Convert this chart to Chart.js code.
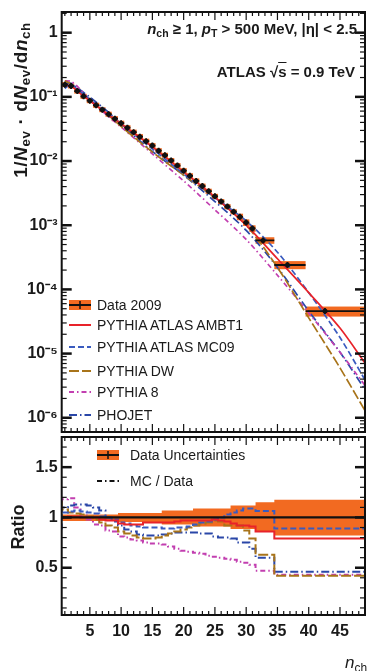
<!DOCTYPE html>
<html>
<head>
<meta charset="utf-8">
<script src="https://cdn.jsdelivr.net/npm/chart.js@4.4.1/dist/chart.umd.min.js"></script>
<style>
  html, body { margin: 0; padding: 0; background: #fff; }
  #wrap { position: relative; width: 369px; height: 671px; overflow: hidden;
          font-family: 'Liberation Sans', Arial, sans-serif; color: #1a1a1a; }
  canvas { position: absolute; left: 0; }
  #top { top: 0; }
  #ratio { top: 436px; }
  .txt { position: absolute; white-space: nowrap; line-height: 1; }
  .txt sub { font-size: 70%; vertical-align: -0.3em; line-height: 0; }
  .row { position: absolute; display: flex; align-items: center; height: 16px; white-space: nowrap; font-size: 14px; }
  .row svg { margin-right: 6px; }
</style>
</head>
<body>
<div id="wrap">
  <canvas id="top" width="369" height="436"></canvas>
  <canvas id="ratio" width="369" height="235"></canvas>

  <!-- axis titles -->
  <div class="txt" style="left:20px; top:100px; font-size:19px; font-weight:bold; letter-spacing:0.6px; transform:translate(-50%,-50%) rotate(-90deg);">
    1/<i>N</i><sub>ev</sub> · d<i>N</i><sub>ev</sub>/d<i>n</i><sub>ch</sub>
  </div>
  <div class="txt" style="left:18px; top:527px; font-size:18px; font-weight:bold; transform:translate(-50%,-50%) rotate(-90deg);">Ratio</div>
  <div class="txt" style="right:2px; top:654px; font-size:17px;"><i>n</i><sub>ch</sub></div>

  <!-- annotations -->
  <div class="txt" style="right:12px; top:21px; font-size:15px; font-weight:bold;">
    <i>n</i><sub>ch</sub> ≥ 1, <i>p</i><sub>T</sub> &gt; 500 MeV, |η| &lt; 2.5
  </div>
  <div class="txt" style="right:14px; top:64px; font-size:15px; font-weight:bold;">
    ATLAS √<span style="text-decoration:overline">s</span> = 0.9 TeV
  </div>

  <div id="legendTop"></div>
  <div id="legendRatio"></div>
</div>

<script>
// --- Colours ---
const ORANGE = '#f26a21';
const RED = '#e8232a';
const BLUE = '#3a5bbf';
const BROWN = '#a8741a';
const MAGENTA = '#c23fb0';
const DARKBLUE = '#2a47a8';

// --- Data 2009: bin edges (n_ch = 1..31, then 32-34, 35-39, 40+) ---
const binEdges = [0.5, 1.5, 2.5, 3.5, 4.5, 5.5, 6.5, 7.5, 8.5, 9.5, 10.5,
  11.5, 12.5, 13.5, 14.5, 15.5, 16.5, 17.5, 18.5, 19.5, 20.5,
  21.5, 22.5, 23.5, 24.5, 25.5, 26.5, 27.5, 28.5, 29.5, 30.5,
  31.5, 34.5, 39.5, 49.5];
// where each point sits (wide bins at their mean n_ch)
const dataX = [1, 2, 3, 4, 5, 6, 7, 8, 9, 10, 11, 12, 13, 14, 15, 16, 17, 18, 19, 20,
  21, 22, 23, 24, 25, 26, 27, 28, 29, 30, 31, 32.7, 36.6, 42.6];
const dataVal = [0.155, 0.148, 0.123, 0.102, 0.0871, 0.0741, 0.0631, 0.0537, 0.0457, 0.0389,
  0.0331, 0.0282, 0.0240, 0.0204, 0.0174, 0.0145, 0.0123, 0.0102, 0.00851, 0.00708,
  0.00589, 0.00490, 0.00407, 0.00339, 0.00282, 0.00234, 0.00195, 0.00162, 0.00135, 0.00110,
  0.00089, 5.8e-4, 2.4e-4, 4.6e-5];
// relative data uncertainty band (lower / upper)
const bandLo = [0.965, 0.965, 0.965, 0.965, 0.965, 0.965, 0.965, 0.965, 0.965, 0.965,
  0.955, 0.955, 0.955, 0.955, 0.955, 0.955, 0.955, 0.93, 0.93, 0.93,
  0.93, 0.93, 0.91, 0.91, 0.91, 0.91, 0.91, 0.91, 0.885, 0.885,
  0.885, 0.885, 0.86, 0.82];
const bandHi = [1.03, 1.03, 1.03, 1.03, 1.03, 1.03, 1.03, 1.03, 1.03, 1.03,
  1.045, 1.045, 1.045, 1.045, 1.045, 1.045, 1.045, 1.07, 1.07, 1.07,
  1.07, 1.07, 1.09, 1.09, 1.09, 1.09, 1.09, 1.09, 1.12, 1.12,
  1.12, 1.12, 1.15, 1.175];

// --- MC predictions, top panel ---
const mcX = [1, 2, 3, 5, 8, 10, 15, 20, 25, 30, 35, 40, 45, 49];
const ambt1 = [0.151, 0.148, 0.123, 0.0871, 0.0525, 0.038, 0.0166, 0.00676, 0.00275, 1.0e-3, 3.0e-4, 8.9e-5, 2.5e-5, 7.1e-6];
const mc09 = [0.135, 0.157, 0.130, 0.0912, 0.0543, 0.038, 0.0155, 0.0063, 0.00269, 0.00117, 3.8e-4, 8.9e-5, 1.78e-5, 3.9e-6];
const pythiaDW = [0.178, 0.158, 0.129, 0.0891, 0.0513, 0.0347, 0.0138, 0.00603, 0.00269, 1.0e-3, 2.2e-4, 3.6e-5, 6.0e-6, 1.29e-6];
const pythia8 = [0.178, 0.174, 0.146, 0.0891, 0.049, 0.0339, 0.0129, 0.0049, 0.00174, 6.0e-4, 1.66e-4, 4.3e-5, 1.05e-5, 3.2e-6];
const phojet = [0.162, 0.162, 0.138, 0.0989, 0.0575, 0.0372, 0.0141, 0.00603, 0.00234, 8.3e-4, 2.2e-4, 4.6e-5, 1.05e-5, 2.75e-6];

// --- MC / Data ratios, per data bin ---
const rAmbt1 = [0.98, 1.0, 1.01, 1.01, 1.0, 1.0, 1.0, 0.98, 0.97, 0.97,
  0.94, 0.93, 0.93, 0.93, 0.95, 0.95, 0.95, 0.95, 0.95, 0.96,
  0.97, 0.97, 0.97, 0.97, 0.97, 0.98, 0.97, 0.96, 0.94, 0.92,
  0.92, 0.91, 0.86, 0.79];
const rMc09 = [0.88, 1.05, 1.06, 1.07, 1.06, 1.05, 1.04, 1.01, 1.0, 0.98,
  0.95, 0.94, 0.92, 0.91, 0.9, 0.9, 0.9, 0.89, 0.89, 0.9,
  0.9, 0.91, 0.93, 0.95, 0.96, 0.98, 1.0, 1.03, 1.05, 1.07,
  1.09, 1.09, 1.065, 0.89];
const rDW = [1.16, 1.08, 1.05, 1.04, 1.03, 1.01, 0.98, 0.95, 0.92, 0.9,
  0.86, 0.84, 0.82, 0.8, 0.79, 0.79, 0.8, 0.82, 0.84, 0.86,
  0.88, 0.9, 0.92, 0.94, 0.95, 0.97, 0.96, 0.92, 0.92, 0.92,
  0.87, 0.79, 0.63, 0.42];
const rP8 = [1.15, 1.18, 1.19, 1.1, 1.02, 0.98, 0.93, 0.92, 0.87, 0.86,
  0.81, 0.8, 0.78, 0.77, 0.75, 0.74, 0.74, 0.73, 0.71, 0.69,
  0.67, 0.66, 0.65, 0.64, 0.62, 0.61, 0.6, 0.59, 0.58, 0.56,
  0.55, 0.53, 0.47, 0.43];
const rPhojet = [1.05, 1.1, 1.12, 1.13, 1.13, 1.12, 1.1, 1.07, 1.0, 0.96,
  0.92, 0.88, 0.86, 0.83, 0.82, 0.82, 0.82, 0.83, 0.84, 0.85,
  0.85, 0.85, 0.85, 0.84, 0.84, 0.81, 0.8, 0.8, 0.79, 0.75,
  0.75, 0.69, 0.6, 0.46];

// --- Axis ticks ---
const xLabels = [5, 10, 15, 20, 25, 30, 35, 40, 45];
const decades = [1e-6, 1e-5, 1e-4, 1e-3, 1e-2, 1e-1, 1];
const ratioLabels = [0.5, 1, 1.5];

const X_MIN = 0.5, X_MAX = 49;

// Series styling
const series = [
  { label: 'PYTHIA ATLAS AMBT1', top: ambt1, ratio: rAmbt1, color: RED, dash: [] },
  { label: 'PYTHIA ATLAS MC09', top: mc09, ratio: rMc09, color: BLUE, dash: [6, 3] },
  { label: 'PYTHIA DW', top: pythiaDW, ratio: rDW, color: BROWN, dash: [10, 3] },
  { label: 'PYTHIA 8', top: pythia8, ratio: rP8, color: MAGENTA, dash: [5, 3, 1.5, 3] },
  { label: 'PHOJET', top: phojet, ratio: rPhojet, color: DARKBLUE, dash: [8, 3, 1.5, 3] },
];

Chart.defaults.font.family = "'Liberation Sans', Arial, sans-serif";

const SUP = { '-': '⁻', '0': '⁰', '1': '¹', '2': '²', '3': '³', '4': '⁴', '5': '⁵', '6': '⁶', '7': '⁷', '8': '⁸', '9': '⁹' };
const powLabel = (v) => {
  const e = Math.round(Math.log10(v));
  if (e === 0) return '1';
  return '10' + String(e).split('').map((c) => SUP[c]).join('');
};

// stepped histogram points from per-bin values
const steps = (vals) => binEdges.map((e, i) => ({ x: e, y: vals[Math.min(i, vals.length - 1)] }));

// fixed axis box sizes so both panels line up with the picture
const fixY = (s) => { s.width = 61.7; s.paddingTop = 0; s.paddingBottom = 0; };
const fixX = (s) => { s.height = 56; s.paddingLeft = 0; s.paddingRight = 0; };

// Frame with inward ticks on all four sides (ROOT style)
const frameTicks = {
  id: 'frameTicks',
  afterDraw(chart, args, opts) {
    const { ctx, chartArea: a, scales: { x, y } } = chart;
    const seg = (x0, y0, x1, y1, w) => {
      ctx.lineWidth = w;
      ctx.beginPath();
      ctx.moveTo(x0, y0);
      ctx.lineTo(x1, y1);
      ctx.stroke();
    };
    ctx.save();
    ctx.strokeStyle = '#111';
    for (let v = 1; v <= 49; v++) {
      const px = x.getPixelForValue(v);
      const len = v % 5 ? 4 : 8;
      seg(px, a.bottom, px, a.bottom - len, 1.2);
      seg(px, a.top, px, a.top + len, 1.2);
    }
    opts.yMinor.filter((v) => v > y.min && v < y.max).forEach((v) => {
      const py = y.getPixelForValue(v);
      seg(a.left, py, a.left + 5, py, 1.2);
      seg(a.right, py, a.right - 5, py, 1.2);
    });
    opts.yMajor.forEach((v) => {
      const py = y.getPixelForValue(v);
      seg(a.left, py, a.left + 10, py, 2.5);
      seg(a.right, py, a.right - 10, py, 2.5);
    });
    ctx.lineWidth = 2;
    ctx.strokeRect(a.left, a.top, a.right - a.left, a.bottom - a.top);
    ctx.restore();
  },
};

// Orange systematic boxes and black bin-width bars for the data
const dataBoxes = {
  id: 'dataBoxes',
  beforeDatasetsDraw(chart) {
    const { ctx, chartArea: a, scales: { x, y } } = chart;
    ctx.save();
    ctx.beginPath();
    ctx.rect(a.left, a.top, a.right - a.left, a.bottom - a.top);
    ctx.clip();
    ctx.fillStyle = ORANGE;
    dataVal.forEach((v, i) => {
      const x0 = x.getPixelForValue(binEdges[i]);
      const x1 = x.getPixelForValue(binEdges[i + 1]);
      const yc = y.getPixelForValue(v);
      const y0 = Math.min(y.getPixelForValue(v * bandHi[i]), yc - 2.5);
      const y1 = Math.max(y.getPixelForValue(v * bandLo[i]), yc + 2.5);
      ctx.fillRect(x0, y0, x1 - x0, y1 - y0);
    });
    ctx.restore();
  },
  afterDatasetsDraw(chart) {
    const { ctx, chartArea: a, scales: { x, y } } = chart;
    ctx.save();
    ctx.beginPath();
    ctx.rect(a.left, a.top, a.right - a.left, a.bottom - a.top);
    ctx.clip();
    ctx.strokeStyle = '#111';
    ctx.lineWidth = 1.8;
    dataVal.forEach((v, i) => {
      const yc = y.getPixelForValue(v);
      const xc = x.getPixelForValue(dataX[i]);
      ctx.beginPath();
      ctx.moveTo(x.getPixelForValue(binEdges[i]), yc);
      ctx.lineTo(x.getPixelForValue(binEdges[i + 1]), yc);
      ctx.moveTo(xc, yc - 3);
      ctx.lineTo(xc, yc + 3);
      ctx.stroke();
    });
    ctx.restore();
  },
};

const logMinor = [];
for (let k = -7; k <= 0; k++) for (let m = 2; m <= 9; m++) logMinor.push(m * Math.pow(10, k));
const linMinor = [];
for (let k = 1; k <= 17; k++) linMinor.push(k / 10);

const tickFont = { size: 16, weight: 'bold' };

// --- Top panel ---
new Chart(document.getElementById('top'), {
  type: 'line',
  data: {
    datasets: [
      {
        label: 'Data 2009',
        data: dataX.map((x, i) => ({ x, y: dataVal[i] })),
        showLine: false,
        pointRadius: 2.5,
        pointBackgroundColor: '#111',
        pointBorderWidth: 0,
      },
      ...series.map((s) => ({
        label: s.label,
        data: mcX.map((x, i) => ({ x, y: s.top[i] })),
        borderColor: s.color,
        borderDash: s.dash,
        borderWidth: 1.7,
        pointRadius: 0,
        tension: 0.3,
      })),
    ],
  },
  options: {
    responsive: false,
    animation: false,
    layout: { padding: { top: 12, right: 4, bottom: 2, left: 0 } },
    plugins: {
      legend: { display: false },
      tooltip: { enabled: false },
      frameTicks: { yMajor: decades, yMinor: logMinor },
    },
    scales: {
      x: { type: 'linear', min: X_MIN, max: X_MAX, display: false },
      y: {
        type: 'logarithmic',
        min: 6e-7,
        max: 2.1,
        afterFit: fixY,
        afterBuildTicks: (s) => { s.ticks = decades.map((v) => ({ value: v })); },
        grid: { display: false, drawTicks: false },
        border: { display: false },
        ticks: { padding: 4, color: '#1a1a1a', font: tickFont, callback: (v) => powLabel(v) },
      },
    },
  },
  plugins: [dataBoxes, frameTicks],
});

// --- Ratio panel ---
new Chart(document.getElementById('ratio'), {
  type: 'line',
  data: {
    datasets: [
      {
        label: 'one',
        data: [{ x: X_MIN, y: 1 }, { x: X_MAX, y: 1 }],
        borderColor: '#111',
        borderWidth: 2.2,
        pointRadius: 0,
      },
      ...series.map((s) => ({
        label: s.label,
        data: steps(s.ratio),
        stepped: 'after',
        borderColor: s.color,
        borderDash: s.dash,
        borderWidth: 2,
        pointRadius: 0,
      })),
      {
        label: 'band hi',
        data: steps(bandHi),
        stepped: 'after',
        borderWidth: 0,
        pointRadius: 0,
        backgroundColor: ORANGE,
        fill: '+1',
      },
      {
        label: 'band lo',
        data: steps(bandLo),
        stepped: 'after',
        borderWidth: 0,
        pointRadius: 0,
      },
    ],
  },
  options: {
    responsive: false,
    animation: false,
    layout: { padding: { top: 1, right: 4, bottom: 0, left: 0 } },
    plugins: {
      legend: { display: false },
      tooltip: { enabled: false },
      frameTicks: { yMajor: ratioLabels, yMinor: linMinor },
    },
    scales: {
      x: {
        type: 'linear',
        min: X_MIN,
        max: X_MAX,
        afterFit: fixX,
        afterBuildTicks: (s) => { s.ticks = xLabels.map((v) => ({ value: v })); },
        grid: { display: false, drawTicks: false },
        border: { display: false },
        ticks: { padding: 7, color: '#1a1a1a', font: tickFont, maxRotation: 0 },
      },
      y: {
        type: 'linear',
        min: 0.03,
        max: 1.8,
        afterFit: fixY,
        afterBuildTicks: (s) => { s.ticks = ratioLabels.map((v) => ({ value: v })); },
        grid: { display: false, drawTicks: false },
        border: { display: false },
        ticks: { padding: 4, color: '#1a1a1a', font: tickFont, callback: (v) => String(v) },
      },
    },
  },
  plugins: [frameTicks],
});

// --- Legends (HTML overlay) ---
const swatch = (kind, color, dash) => {
  if (kind === 'data') {
    return '<svg width="22" height="14"><rect x="0" y="2" width="22" height="10" fill="' + ORANGE + '"/>' +
      '<line x1="0" y1="7" x2="22" y2="7" stroke="#111" stroke-width="2"/>' +
      '<line x1="11" y1="3" x2="11" y2="11" stroke="#111" stroke-width="1.5"/></svg>';
  }
  return '<svg width="22" height="14"><line x1="0" y1="7" x2="22" y2="7" stroke="' + color +
    '" stroke-width="2" stroke-dasharray="' + dash.join(' ') + '"/></svg>';
};

const topRows = [
  { text: 'Data 2009', y: 305, html: swatch('data') },
  ...series.map((s, i) => ({ text: s.label, y: [325, 347, 371, 392, 415][i], html: swatch('line', s.color, s.dash) })),
];
document.getElementById('legendTop').innerHTML = topRows
  .map((r) => '<div class="row" style="left:69px; top:' + (r.y - 8) + 'px;">' + r.html + '<span>' + r.text + '</span></div>')
  .join('');

const ratioRows = [
  { text: 'Data Uncertainties', y: 455, html: swatch('data') },
  { text: 'MC / Data', y: 481, html: swatch('line', '#111', [5, 3, 1.5, 3]) },
];
document.getElementById('legendRatio').innerHTML = ratioRows
  .map((r) => '<div class="row" style="left:97px; top:' + (r.y - 8) + 'px;">' + r.html.replace('width="22"', 'width="24"') + '<span style="margin-left:3px">' + r.text + '</span></div>')
  .join('');
</script>
</body>
</html>
